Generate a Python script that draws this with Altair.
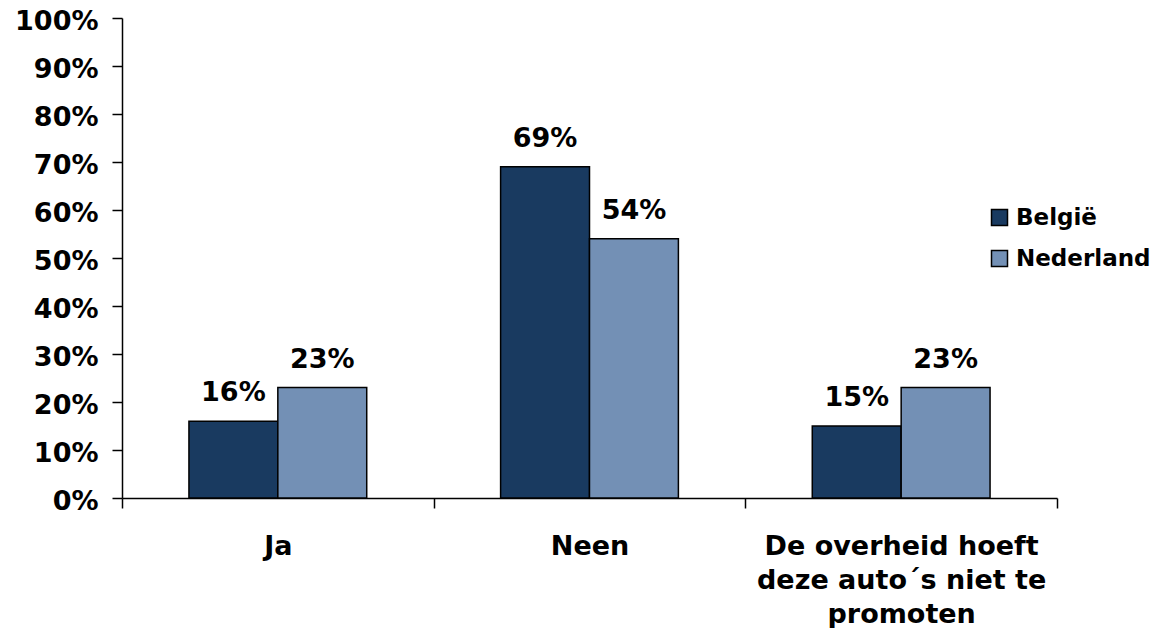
import altair as alt
import pandas as pd

categories = ["Ja", "Neen", "De overheid hoeft deze auto´s niet te promoten"]
label_lines = ["De overheid hoeft", "deze auto´s niet te", "promoten"]
series = ["België", "Nederland"]
belgie = [16, 69, 15]
nederland = [23, 54, 23]
colors = ["#193a60", "#7390b5"]
y_ticks = [0, 10, 20, 30, 40, 50, 60, 70, 80, 90, 100]

rows = []
for i, c in enumerate(categories):
    rows.append({"cat": c, "series": series[0], "value": belgie[i]})
    rows.append({"cat": c, "series": series[1], "value": nederland[i]})
df = pd.DataFrame(rows)

FONT = "DejaVu Sans"

label_expr = "datum.label == '%s' ? %s : datum.label" % (
    categories[2], "[" + ",".join("'%s'" % s for s in label_lines) + "]"
)

base = alt.Chart(df).transform_calculate(
    lbl="datum.value + '%'"
).encode(
    x=alt.X(
        "cat:N",
        sort=categories,
        scale=alt.Scale(paddingInner=0, paddingOuter=0),
        axis=alt.Axis(
            title=None,
            labelAngle=0,
            tickBand="extent",
            tickSize=10,
            tickColor="black",
            tickWidth=1.5,
            domainColor="black",
            domainWidth=1.5,
            labelFont=FONT,
            labelFontSize=27,
            labelFontWeight="bold",
            labelColor="black",
            labelPadding=25,
            labelLineHeight=34,
            labelExpr=label_expr,
            labelLimit=400,
        ),
    ),
    xOffset=alt.XOffset(
        "series:N",
        sort=series,
        scale=alt.Scale(paddingInner=0, paddingOuter=0.753),
    ),
    y=alt.Y(
        "value:Q",
        scale=alt.Scale(domain=[0, 100]),
        axis=alt.Axis(
            title=None,
            values=y_ticks,
            grid=False,
            tickSize=10,
            tickColor="black",
            tickWidth=1.5,
            domainColor="black",
            domainWidth=1.5,
            labelFont=FONT,
            labelFontSize=27,
            labelFontWeight="bold",
            labelColor="black",
            labelPadding=14,
            labelOffset=3,
            labelExpr="datum.value + '%'",
        ),
    ),
)

bars = base.mark_bar(stroke="black", strokeWidth=1.5).encode(
    color=alt.Color(
        "series:N",
        sort=series,
        scale=alt.Scale(domain=series, range=colors),
        legend=alt.Legend(
            title=None,
            orient="none",
            legendX=866,
            legendY=188,
            symbolType="square",
            symbolSize=256,
            symbolStrokeColor="black",
            symbolStrokeWidth=1.5,
            symbolOpacity=1,
            labelFont=FONT,
            labelFontSize=23,
            labelFontWeight="bold",
            labelColor="black",
            labelOffset=5,
            rowPadding=17,
            padding=0,
        ),
    )
)

text = base.mark_text(
    baseline="bottom",
    dy=-14,
    font=FONT,
    fontSize=27,
    fontWeight="bold",
    color="black",
).encode(text="lbl:N")

chart = (
    alt.layer(bars, text)
    .properties(
        width=935,
        height=480,
        autosize=alt.AutoSizeParams(type="none"),
        padding={"left": 114, "top": 10, "right": 100, "bottom": 130},
    )
    .configure_view(stroke=None)
)

chart.save("out.html", embed_options={"renderer": "svg", "actions": False})
